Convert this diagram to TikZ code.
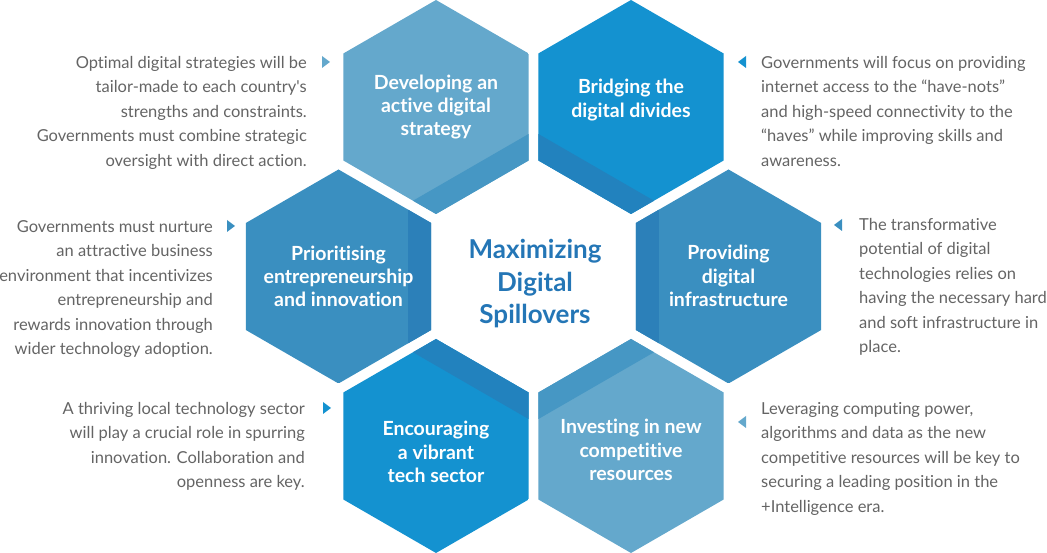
\documentclass[tikz,border=0pt]{standalone}
\usepackage{fontspec}
\setmainfont{Lato}[Ligatures={NoCommon}]

\definecolor{hexlight}{RGB}{100,168,204}
\definecolor{bandlight}{RGB}{70,151,196}
\definecolor{hexbright}{RGB}{20,146,208}
\definecolor{bandbright}{RGB}{34,130,190}
\definecolor{hexmid}{RGB}{58,143,192}
\definecolor{bandmid}{RGB}{44,128,185}
\definecolor{titleblue}{RGB}{36,118,182}
\definecolor{notegray}{RGB}{100,100,100}

\tikzstyle{hexlabel}=[text=white,font=\bfseries\fontsize{19.5}{23.2}\selectfont,align=center,inner sep=0pt]
\tikzstyle{title}=[text=titleblue,font=\bfseries\fontsize{26}{32.5}\selectfont,align=center,inner sep=0pt]
\tikzstyle{note}=[text=notegray,font=\fontsize{16.5}{24.5}\selectfont,inner sep=0pt]
\newcommand{\hexR}{107}
\newcommand{\hexA}{92.66}
\newcommand{\bandw}{23}

\begin{document}
\begin{tikzpicture}[x=1pt, y=1pt]
    \useasboundingbox (0,0) rectangle (1047,553);
    % First we draw the hexagons, each with a darker band towards the middle
    \foreach \x/\y/\ang/\fillc/\bandc in {436/446/300/hexlight/bandlight,
        631/446/240/hexbright/bandbright, 338.5/276.5/0/hexmid/bandmid,
        728.5/276.5/180/hexmid/bandmid, 436/107/60/hexbright/bandbright,
        631/107/120/hexlight/bandlight}
    {
        \begin{scope}[shift={(\x,\y)}, rotate=\ang]
            \clip (30:\hexR) -- (90:\hexR) -- (150:\hexR) -- (210:\hexR)
                -- (270:\hexR) -- (330:\hexR) -- cycle;
            \fill[\fillc] (-\hexR,-\hexR) rectangle (\hexR,\hexR);
            \fill[\bandc] ({\hexA-\bandw},-\hexR) rectangle (\hexR,\hexR);
        \end{scope}
    }
    % Labels inside the hexagons
    \foreach \pos/\name/\txt in {{(436,446)/develop/{Developing an\\active digital\\strategy}},
        {(631,453)/bridge/{Bridging the\\digital divides}},
        {(338.5,276.5)/prior/{Prioritising\\entrepreneurship\\and innovation}},
        {(728.5,277)/provide/{Providing\\digital\\infrastructure}},
        {(436,101)/encourage/{Encouraging\\a vibrant\\tech sector}},
        {(631,103)/invest/{Investing in new\\competitive\\resources}}}
        \node[hexlabel] (\name) at \pos {\txt};
    \node[title] (spill) at (535,269) {Maximizing\\Digital\\Spillovers};
    % Notes on both sides
    \node[note, anchor=north east, align=right] (developnote) at (307,497)
        {Optimal digital strategies will be\\tailor-made to each country\textquotesingle s\\strengths and constraints.\\Governments must combine strategic\\oversight with direct action.};
    \node[note, anchor=north west, align=left] (bridgenote) at (761,497)
        {Governments will focus on providing\\internet access to the “have-nots”\\and high-speed connectivity to the\\“haves” while improving skills and\\awareness.};
    \node[note, anchor=north east, align=right] (priornote) at (213,333)
        {Governments must nurture\\an attractive business\\environment that incentivizes\\entrepreneurship and\\rewards innovation through\\wider technology adoption.};
    \node[note, anchor=north west, align=left] (providenote) at (859,335)
        {The transformative\\potential of digital\\technologies relies on\\having the necessary hard\\and soft infrastructure in\\place.};
    \node[note, anchor=north east, align=right] (encouragenote) at (305,151)
        {A thriving local technology sector\\will play a crucial role in spurring\\innovation. Collaboration and\\openness are key.};
    \node[note, anchor=north west, align=left] (investnote) at (761,151)
        {Leveraging computing power,\\algorithms and data as the new\\competitive resources will be key to\\securing a leading position in the\\+Intelligence era.};
    % Small pointers next to the notes
    \foreach \x/\y/\ang/\c in {326/491/0/hexlight, 742/491/180/hexbright,
        231/327/0/hexmid, 838/328/180/hexmid,
        327/145/0/hexbright, 742/131/180/hexlight}
        \fill[\c, shift={(\x,\y)}, rotate=\ang] (4,0) -- (-4,6) -- (-4,-6) -- cycle;
\end{tikzpicture}
\end{document}
